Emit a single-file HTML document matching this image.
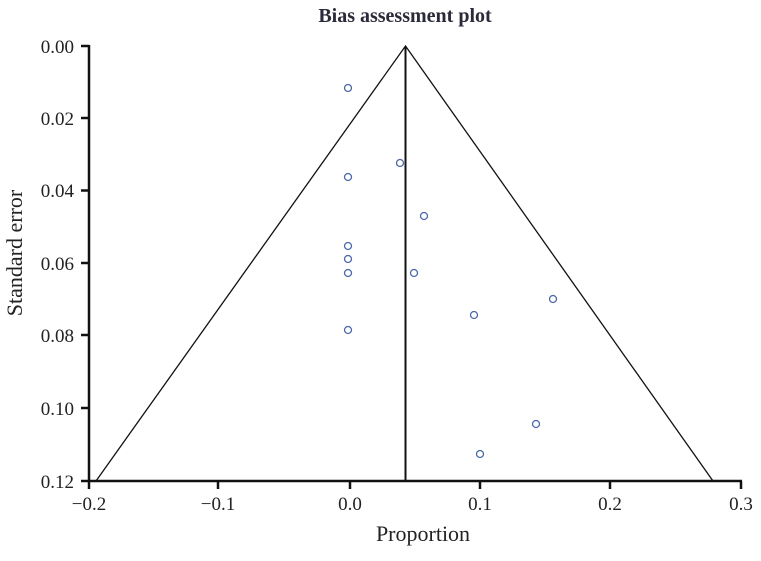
<!DOCTYPE html>
<html><head><meta charset="utf-8"><style>body{margin:0;background:#fff}</style></head>
<body>
<svg width="761" height="556" xmlns="http://www.w3.org/2000/svg" font-family="Liberation Serif, serif" fill="#222">
<text x="405" y="22" font-size="20" font-weight="bold" text-anchor="middle" fill="#2a2a3a">Bias assessment plot</text>
<g stroke="#111" stroke-width="2.5" fill="none">
<line x1="89" y1="45" x2="89" y2="482"/>
<line x1="88" y1="481" x2="742" y2="481"/>
<line x1="81" y1="46" x2="89" y2="46"/>
<line x1="81" y1="118" x2="89" y2="118"/>
<line x1="81" y1="190.5" x2="89" y2="190.5"/>
<line x1="81" y1="263" x2="89" y2="263"/>
<line x1="81" y1="335" x2="89" y2="335"/>
<line x1="81" y1="408" x2="89" y2="408"/>
<line x1="81" y1="481" x2="89" y2="481"/>
<line x1="89" y1="481" x2="89" y2="489"/>
<line x1="218" y1="481" x2="218" y2="489"/>
<line x1="350" y1="481" x2="350" y2="489"/>
<line x1="480" y1="481" x2="480" y2="489"/>
<line x1="610" y1="481" x2="610" y2="489"/>
<line x1="741" y1="481" x2="741" y2="489"/>
<line x1="405.5" y1="46" x2="405.5" y2="481" stroke-width="2"/>
</g>
<g stroke="#111" stroke-width="1.3" fill="none">
<polyline points="96,481 405.5,46 713,481"/>
</g>
<g font-size="19" text-anchor="end">
<text x="74" y="53">0.00</text><text x="74" y="125">0.02</text><text x="74" y="197">0.04</text>
<text x="74" y="270">0.06</text><text x="74" y="342">0.08</text><text x="74" y="415">0.10</text><text x="74" y="488">0.12</text>
</g>
<g font-size="19" text-anchor="middle">
<text x="89" y="510">−0.2</text><text x="218" y="510">−0.1</text><text x="350" y="510">0.0</text>
<text x="480" y="510">0.1</text><text x="610" y="510">0.2</text><text x="741" y="510">0.3</text>
<text x="423" y="541" font-size="22">Proportion</text>
<text transform="translate(22,253) rotate(-90)" font-size="22">Standard error</text>
</g>
<g stroke="#4a68a8" stroke-width="1.3" fill="none">
<circle cx="348" cy="88" r="3.5"/><circle cx="400" cy="163" r="3.5"/><circle cx="348" cy="177" r="3.5"/>
<circle cx="424" cy="216" r="3.5"/><circle cx="348" cy="246" r="3.5"/><circle cx="348" cy="259" r="3.5"/>
<circle cx="348" cy="273" r="3.5"/><circle cx="414" cy="273" r="3.5"/><circle cx="553" cy="299" r="3.5"/>
<circle cx="474" cy="315" r="3.5"/><circle cx="348" cy="330" r="3.5"/><circle cx="536" cy="424" r="3.5"/>
<circle cx="480" cy="454" r="3.5"/>
</g>
</svg>
</body></html>
